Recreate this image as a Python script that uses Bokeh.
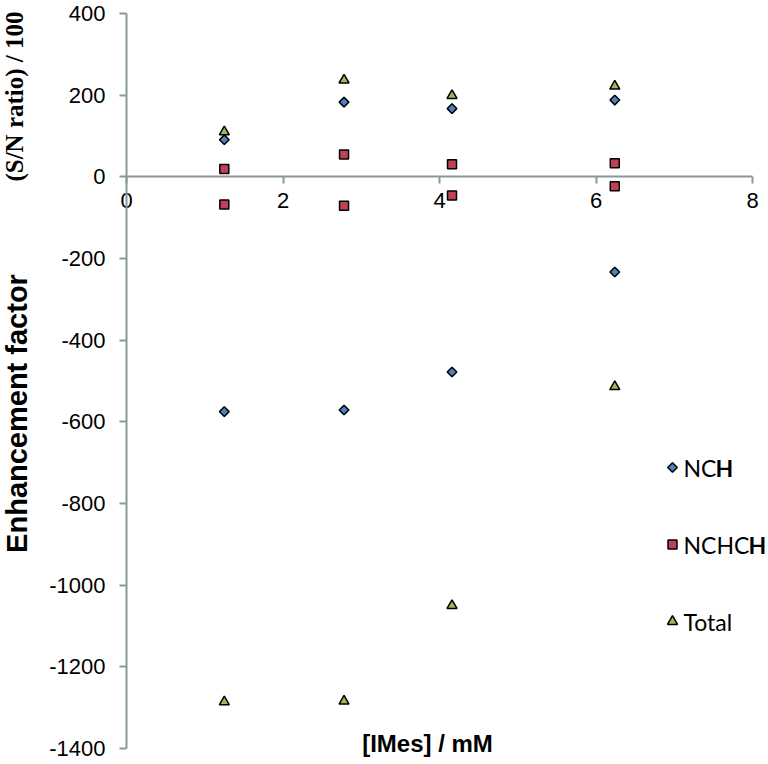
import math
from bokeh.plotting import figure
from bokeh.models import FixedTicker, Label, Range1d
from bokeh.embed import file_html
from bokeh.resources import INLINE

# ---- data ----
conc = [1.25, 1.25, 2.78, 2.78, 4.16, 4.16, 6.24, 6.24]
nch = [91, -575, 183, -571, 167, -478, 188, -233]
nchch = [19, -68, 55, -71, 31, -46, 33, -23]
total = [110, -1286, 237, -1284, 199, -1050, 222, -514]
x_ticks = [0, 2, 4, 6, 8]
y_ticks = [-1400, -1200, -1000, -800, -600, -400, -200, 0, 200, 400]
series_names = ["NCH", "NCHCH", "Total"]

# ---- layout (pixels inside the figure) ----
FIG_W, FIG_H = 768, 764
X_LO, X_HI = 0, 8
Y_LO, Y_HI = -1400, 400
PX_XLO, PX_XHI = 126, 752      # figure x of data x=0 and x=8
PX_YHI, PX_YLO = 13, 748       # figure y (from top) of data y=400 and y=-1400
xs = (PX_XHI - PX_XLO) / (X_HI - X_LO)
ys = (PX_YLO - PX_YHI) / (Y_HI - Y_LO)
x_start = X_LO - PX_XLO / xs
x_end = X_HI + (FIG_W - PX_XHI) / xs
y_end = Y_HI + PX_YHI / ys
y_start = Y_LO - (FIG_H - PX_YLO) / ys


def px_to_x(px):
    return x_start + px / xs


def px_to_y(py):
    return y_end - py / ys


AXIS = "#8a989c"
TICK_FONT = "Liberation Sans"

p = figure(width=FIG_W, height=FIG_H, x_range=Range1d(x_start, x_end),
           y_range=Range1d(y_start, y_end),
           output_backend="svg", toolbar_location=None,
           min_border_left=0, min_border_right=0, min_border_top=0, min_border_bottom=0)
p.outline_line_color = None
p.grid.visible = False
p.background_fill_color = "white"

for ax in (p.xaxis, p.yaxis):
    ax.axis_line_color = AXIS
    ax.axis_line_width = 2
    ax.major_tick_line_color = AXIS
    ax.major_tick_line_width = 2
    ax.major_tick_in = 0
    ax.major_tick_out = 7
    ax.minor_tick_line_color = None
    ax.major_label_text_font = TICK_FONT
    ax.major_label_text_font_size = "22px"
    ax.major_label_text_color = "black"

p.xaxis.ticker = FixedTicker(ticks=x_ticks)
p.yaxis.ticker = FixedTicker(ticks=y_ticks)
p.yaxis.major_label_overrides = {t: str(t) for t in y_ticks}
p.xaxis.fixed_location = 0
p.yaxis.fixed_location = 0
p.xaxis.bounds = (X_LO, X_HI)
p.yaxis.bounds = (Y_LO, Y_HI)
p.xaxis.major_label_standoff = 9
p.yaxis.major_label_standoff = 14

styles = [
    dict(marker="square", angle=math.pi / 4, size=6.8, fill_color="#4f81bd"),
    dict(marker="square", angle=0, size=9, fill_color="#c0405a"),
    dict(marker="triangle", angle=0, size=10, fill_color="#9bbb59"),
]
for vals, st in zip([nch, nchch, total], styles):
    p.scatter(conc, vals, line_color="black", line_width=1.5, **st)

# ---- legend (drawn by hand so the bold H can be kept) ----
LEG_MARK_PX = 672
LEG_TEXT_PX = 683
LEG_ROWS_PX = [467, 544, 621]
LEG_FONT = "Lato"
LEG_SIZE = "23px"
leg_parts = [("NC", "H"), ("NCHC", "H"), ("Total", "")]
nc_w = {"NC": 32, "NCHC": 65}
for st, (normal, bold), py in zip(styles, leg_parts, LEG_ROWS_PX):
    p.scatter([px_to_x(LEG_MARK_PX)], [px_to_y(py)], line_color="black", line_width=1.5, **st)
    p.add_layout(Label(x=px_to_x(LEG_TEXT_PX), y=px_to_y(py), text=normal,
                       text_font=LEG_FONT, text_font_size=LEG_SIZE, text_baseline="middle",
                       text_color="black"))
    if bold:
        p.add_layout(Label(x=px_to_x(LEG_TEXT_PX + nc_w[normal]), y=px_to_y(py),
                           text=bold, text_font=LEG_FONT, text_font_size=LEG_SIZE,
                           text_font_style="bold", text_baseline="middle",
                           text_color="black"))

p.add_layout(Label(x=px_to_x(16), y=px_to_y(413),
                   text="Enhancement factor", angle=math.pi / 2,
                   text_font="Liberation Sans", text_font_style="bold",
                   text_font_size="29px", text_align="center", text_baseline="middle",
                   text_color="black"))
p.add_layout(Label(x=px_to_x(14), y=px_to_y(96),
                   text="(S/N ratio) / 100", angle=math.pi / 2,
                   text_font="Liberation Serif", text_font_style="bold",
                   text_font_size="25px", text_align="center", text_baseline="middle",
                   text_color="black"))
p.add_layout(Label(x=px_to_x(427), y=px_to_y(743),
                   text="[IMes] / mM",
                   text_font="Liberation Sans", text_font_style="bold",
                   text_font_size="24px", text_align="center", text_baseline="middle",
                   text_color="black"))

open("out.html", "w").write(file_html(p, INLINE))
